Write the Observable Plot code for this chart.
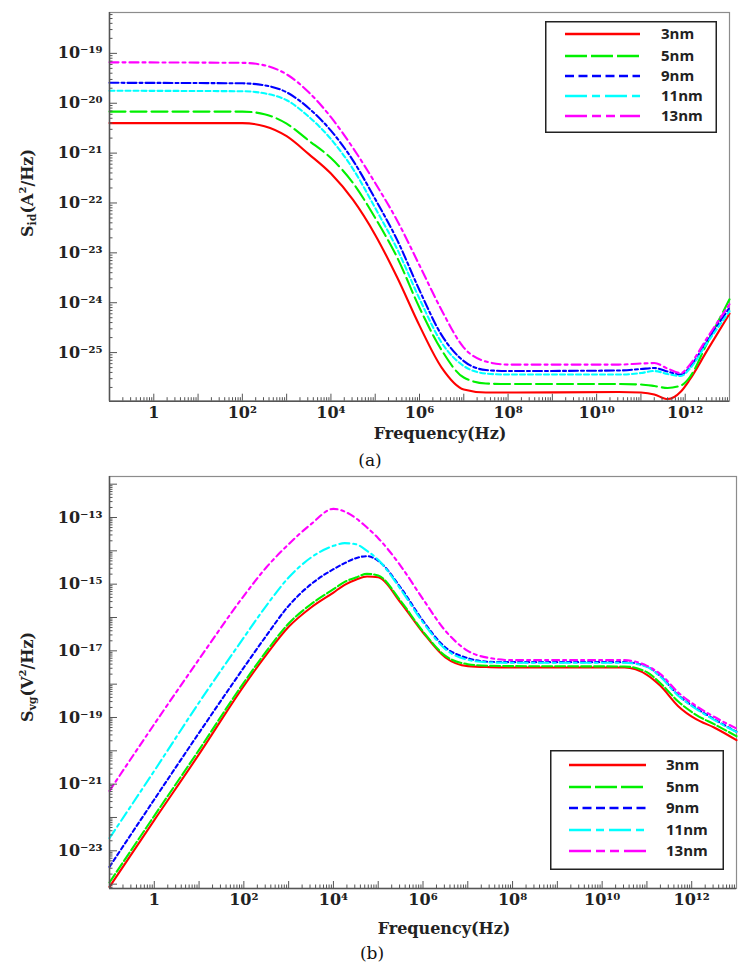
<!DOCTYPE html>
<html><head><meta charset="utf-8">
<script src="https://cdn.jsdelivr.net/npm/d3@7"></script>
<script src="https://cdn.jsdelivr.net/npm/@observablehq/plot@0.6"></script>
<style>
body{margin:0;background:#fff;}
#page{position:relative;width:748px;height:972px;overflow:hidden;background:#fff;}
.t{position:absolute;white-space:nowrap;color:#222;}
.ser{font-family:"DejaVu Serif",serif;font-weight:bold;font-size:16px;}
.ylab{transform:translate(-50%,-50%) rotate(-90deg);}
.ctr{transform:translate(-50%,-50%);}
.cap{font-family:"DejaVu Serif",serif;font-size:17px;color:#111;}
sub{font-size:11px;vertical-align:-3px;}
sup{font-size:10px;vertical-align:7px;}
</style></head><body><div id="page"></div>
<script>
// ---------- data ----------
const sizes = ["3nm", "5nm", "9nm", "11nm", "13nm"];

// panel (a): S_id (A^2/Hz)
const freqA = [0.1, 100, 316, 1000, 3162, 1e4, 31623, 1e5, 316228, 1e6, 3.162e6, 1e7, 3.162e7, 1e8, 3.162e10, 1e11, 2e11, 4e11, 8e11, 1.25e12, 3.162e12, 1e13];
const sid3nm  = [4.0e-21, 4.0e-21, 3.47e-21, 2.19e-21, 9.55e-22, 3.89e-22, 1.15e-22, 2.29e-23, 3.16e-24, 3.47e-25, 5.01e-26, 1.82e-26, 1.58e-26, 1.58e-26, 1.62e-26, 1.58e-26, 1.45e-26, 1.17e-26, 1.66e-26, 2.82e-26, 1.12e-25, 6.03e-25];
const sid5nm  = [6.8e-21, 6.8e-21, 6.03e-21, 3.89e-21, 1.78e-21, 7.94e-22, 2.51e-22, 5.01e-23, 7.94e-24, 7.94e-25, 1.12e-25, 3.16e-26, 2.4e-26, 2.34e-26, 2.34e-26, 2.29e-26, 2.14e-26, 1.95e-26, 2.19e-26, 3.16e-26, 1.58e-25, 1.17e-24];
const sid9nm  = [2.57e-20, 2.51e-20, 2.29e-20, 1.66e-20, 7.94e-21, 2.82e-21, 7.08e-22, 1.2e-22, 1.78e-23, 1.78e-24, 2.24e-25, 6.76e-26, 4.47e-26, 4.27e-26, 4.37e-26, 4.68e-26, 4.9e-26, 4.17e-26, 3.63e-26, 5.01e-26, 1.78e-25, 7.94e-25];
const sid11nm = [1.78e-20, 1.74e-20, 1.58e-20, 1.15e-20, 5.37e-21, 1.91e-21, 4.79e-22, 7.94e-23, 1.17e-23, 1.2e-24, 1.58e-25, 5.37e-26, 3.8e-26, 3.63e-26, 3.63e-26, 3.89e-26, 4.27e-26, 3.72e-26, 3.39e-26, 4.68e-26, 1.58e-25, 6.76e-25];
const sid13nm = [6.61e-20, 6.46e-20, 5.75e-20, 3.8e-20, 1.66e-20, 5.25e-21, 1.26e-21, 2.51e-22, 4.37e-23, 5.62e-24, 7.08e-25, 1.26e-25, 6.61e-26, 5.75e-26, 5.75e-26, 6.03e-26, 6.17e-26, 4.79e-26, 3.89e-26, 5.62e-26, 2.0e-25, 9.33e-25];

// panel (b): S_vg (V^2/Hz)
const freqB = [0.1, 1, 10, 100, 316, 1000, 3162, 1e4, 17783, 31623, 56234, 1e5, 316228, 1e6, 3.162e6, 1e7, 3.162e7, 1e8, 3.162e10, 1e11, 2e11, 5e11, 1.25e12, 3.162e12, 1e13];
const svg3nm  = [8.32e-25, 8.32e-23, 7.94e-21, 8.91e-19, 7.59e-18, 5.25e-17, 2.0e-16, 5.62e-16, 9.55e-16, 1.35e-15, 1.7e-15, 1.62e-15, 2.82e-16, 3.55e-17, 6.31e-18, 3.47e-18, 3.24e-18, 3.16e-18, 3.16e-18, 1.91e-18, 8.91e-19, 2.19e-19, 8.91e-20, 5.01e-20, 2.09e-20];
const svg5nm  = [1.12e-24, 1.12e-22, 1.07e-20, 1.12e-18, 9.55e-18, 6.61e-17, 2.51e-16, 7.08e-16, 1.17e-15, 1.58e-15, 2.04e-15, 1.82e-15, 3.16e-16, 3.8e-17, 7.08e-18, 3.98e-18, 3.55e-18, 3.47e-18, 3.39e-18, 2.29e-18, 1.07e-18, 3.02e-19, 1.2e-19, 6.31e-20, 2.75e-20];
const svg9nm  = [3.31e-24, 3.47e-22, 3.47e-20, 3.16e-18, 2.82e-17, 2.24e-16, 1.0e-15, 2.82e-15, 4.27e-15, 6.03e-15, 6.92e-15, 5.01e-15, 7.94e-16, 7.94e-17, 1.26e-17, 6.03e-18, 4.68e-18, 4.57e-18, 4.57e-18, 3.39e-18, 1.74e-18, 4.68e-19, 1.91e-19, 8.91e-20, 3.72e-20];
const svg11nm = [2.4e-23, 2.51e-21, 2.82e-19, 2.51e-17, 2.24e-16, 1.58e-15, 6.31e-15, 1.41e-14, 1.7e-14, 1.58e-14, 1.0e-14, 5.37e-15, 7.08e-16, 7.08e-17, 1.12e-17, 5.37e-18, 4.47e-18, 4.37e-18, 4.37e-18, 3.31e-18, 1.66e-18, 4.47e-19, 1.82e-19, 8.51e-20, 3.63e-20];
const svg13nm = [6.31e-22, 6.31e-20, 5.62e-18, 4.47e-16, 3.16e-15, 1.58e-14, 6.31e-14, 1.82e-13, 1.51e-13, 9.55e-14, 5.01e-14, 2.4e-14, 3.55e-15, 3.55e-16, 3.98e-17, 1.0e-17, 6.03e-18, 5.25e-18, 5.25e-18, 3.55e-18, 2.0e-18, 5.62e-19, 2.24e-19, 1.05e-19, 4.68e-20];

// axes
const xDomain = [0.1, 1e13];
const yDomainA = [1.06e-26, 6.6e-19];
const yDomainB = [7.4e-25, 1.7e-12];
const xTickValues = [1, 1e2, 1e4, 1e6, 1e8, 1e10, 1e12];
const yTickValuesA = [1e-25, 1e-24, 1e-23, 1e-22, 1e-21, 1e-20, 1e-19];
const yTickValuesB = [1e-23, 1e-21, 1e-19, 1e-17, 1e-15, 1e-13];

// ---------- styles ----------
const colors = ["#ff0000", "#00f000", "#0000ff", "#00ffff", "#ff00ff"];
const dashA = [null, "16,5", "9,3,3,3", "5,3", "9,4,3,4"];
const dashB = [null, "10,3", "4,3", "10,4,3,4", "7,4,3,4"];
const legendDash = [null, "22,4", "9,4.5", "22,5,8,5", "22,5,9,5,9,5"];

const supMap = {"-": "\u207B", "0": "\u2070", "1": "\u00B9", "2": "\u00B2", "3": "\u00B3", "4": "\u2074", "5": "\u2075", "6": "\u2076", "7": "\u2077", "8": "\u2078", "9": "\u2079"};
function fmt(d) {
  const e = Math.round(Math.log10(d));
  if (e === 0) return "1";
  return "10" + String(e).split("").map(c => supMap[c]).join("");
}
function logTicks(lo, hi, majorOnly) {
  const out = [];
  for (let e = Math.floor(Math.log10(lo)); e <= Math.ceil(Math.log10(hi)); e++) {
    for (let m = 1; m < 10; m++) {
      if (majorOnly && m > 1) break;
      if (!majorOnly && m === 1) continue;
      const v = m * Math.pow(10, e);
      if (v >= lo * 1.0001 && v <= hi / 1.0001) out.push(v);
    }
  }
  return out;
}

function panel({freq, series, dashes, yDomain, yTicks, width, height, mL, mR, mT, mB}) {
  const plotW = width - mL - mR, plotH = height - mT - mB;
  const axisColor = "#555";
  const textOpts = {fontSize: 16, fontWeight: "bold", fontFamily: "DejaVu Serif", fill: "#222"};
  return Plot.plot({
    width, height,
    marginLeft: mL, marginRight: mR, marginTop: mT, marginBottom: mB,
    x: {type: "log", domain: xDomain},
    y: {type: "log", domain: yDomain},
    marks: [
      Plot.frame({stroke: "#8c8c8c", strokeWidth: 1.2}),
      ...series.map((vals, i) => Plot.line(freq.map((f, j) => ({f, s: vals[j]})), {
        x: "f", y: "s", stroke: colors[i], strokeWidth: 2.1,
        strokeDasharray: dashes[i], curve: "monotone-x"
      })),
      Plot.ruleX([xDomain[0]], {stroke: axisColor, strokeWidth: 1.5}),
      Plot.ruleY([yDomain[0]], {stroke: axisColor, strokeWidth: 1.5}),
      Plot.tickX(logTicks(xDomain[0], xDomain[1], false), {x: d => d, stroke: axisColor, insetTop: plotH - 3.5}),
      Plot.tickX(logTicks(xDomain[0], xDomain[1], true), {x: d => d, stroke: axisColor, insetTop: plotH - 7}),
      Plot.tickY(logTicks(yDomain[0], yDomain[1], false), {y: d => d, stroke: axisColor, insetRight: plotW - 3.5}),
      Plot.tickY(logTicks(yDomain[0], yDomain[1], true), {y: d => d, stroke: axisColor, insetRight: plotW - 8}),
      Plot.axisX({ticks: xTickValues, tickSize: 0, tickPadding: 5, tickFormat: fmt, label: null, ...textOpts}),
      Plot.axisY({ticks: yTicks, tickSize: 0, tickPadding: 7, tickFormat: fmt, label: null, ...textOpts})
    ]
  });
}

const page = document.getElementById("page");

const svgA = panel({freq: freqA, series: [sid3nm, sid5nm, sid9nm, sid11nm, sid13nm], dashes: dashA,
  yDomain: yDomainA, yTicks: yTickValuesA, width: 748, height: 450, mL: 109, mR: 19, mT: 12, mB: 49.3});
svgA.style.position = "absolute"; svgA.style.left = "0px"; svgA.style.top = "0px";
page.appendChild(svgA);

const svgB = panel({freq: freqB, series: [svg3nm, svg5nm, svg9nm, svg11nm, svg13nm], dashes: dashB,
  yDomain: yDomainB, yTicks: yTickValuesB, width: 748, height: 470, mL: 109, mR: 12, mT: 12, mB: 46});
svgB.style.position = "absolute"; svgB.style.left = "0px"; svgB.style.top = "464px";
page.appendChild(svgB);

function addText(html, cls, x, y) {
  const d = document.createElement("div");
  d.className = "t " + cls;
  d.style.left = x + "px"; d.style.top = y + "px";
  d.innerHTML = html;
  page.appendChild(d);
}
addText("S<sub>id</sub>(A<sup>2</sup>/Hz)", "ser ylab", 28, 193);
addText("S<sub>vg</sub>(V<sup>2</sup>/Hz)", "ser ylab", 28, 677);
addText("Frequency(Hz)", "ser ctr", 440, 433);
addText("Frequency(Hz)", "ser ctr", 444, 928);
addText("(a)", "cap ctr", 370, 460);
addText("(b)", "cap ctr", 372, 953);

function legend(left, top, w, h, x1, x2, tx, rows) {
  const svg = d3.create("svg").attr("width", w).attr("height", h)
    .style("position", "absolute").style("left", left + "px").style("top", top + "px");
  svg.append("rect").attr("x", 0.75).attr("y", 0.75).attr("width", w - 1.5).attr("height", h - 1.5)
    .attr("fill", "#fff").attr("stroke", "#222").attr("stroke-width", 1.5);
  sizes.forEach((s, i) => {
    svg.append("line").attr("x1", x1).attr("x2", x2).attr("y1", rows[i]).attr("y2", rows[i])
      .attr("stroke", colors[i]).attr("stroke-width", 2.6).attr("stroke-dasharray", legendDash[i]);
    svg.append("text").attr("x", tx).attr("y", rows[i]).attr("dy", "0.36em")
      .attr("font-family", "Open Sans, sans-serif").attr("font-weight", "bold").attr("font-size", 15)
      .attr("fill", "#222").text(s);
  });
  page.appendChild(svg.node());
}
legend(545, 21, 172, 112, 20, 95, 116, [13, 35, 55, 75, 95]);
legend(550, 750, 174, 120, 19, 96, 116, [15, 37, 58, 80, 101]);
</script></body></html>
